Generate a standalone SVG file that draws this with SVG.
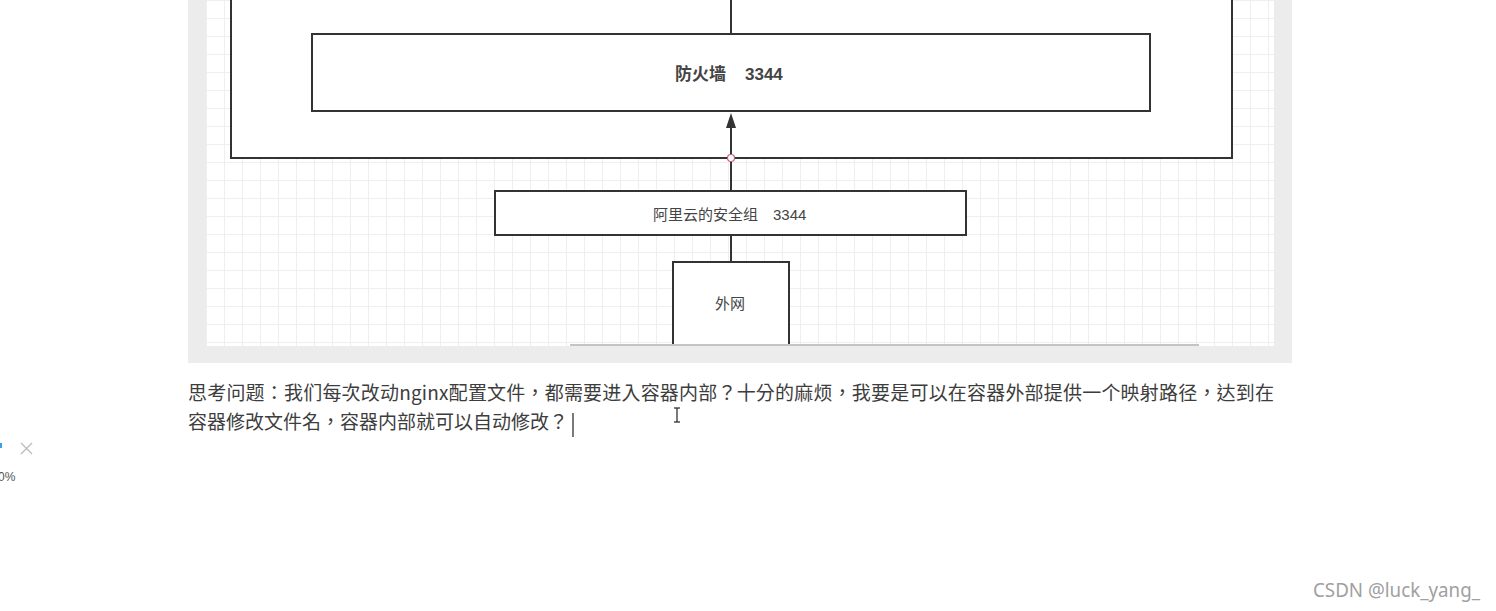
<svg xmlns="http://www.w3.org/2000/svg" width="1496" height="611" viewBox="0 0 1496 611">
  <style>
    .box { fill: #ffffff; stroke: #333333; stroke-width: 2; }
    .dg { font-family: "Liberation Sans", "Noto Sans CJK SC", sans-serif; fill: #444444; }
    .para { font-family: "Noto Sans CJK TC", "Noto Sans CJK SC", sans-serif; font-size: 19px; fill: #3d3d3d; }
    .conn { stroke: #333333; stroke-width: 2; fill: none; }
  </style>
  <defs>
    <pattern id="grid" patternUnits="userSpaceOnUse" x="8" y="0" width="18" height="18">
      <path d="M0.5 0 V18 M0 0.5 H18" stroke="#efefef" stroke-width="1" fill="none"/>
    </pattern>
  </defs>

  <rect x="0" y="0" width="1496" height="611" fill="#ffffff"/>

  <!-- image frame -->
  <rect x="188" y="0" width="1104" height="363" fill="#ececec"/>
  <rect x="206" y="0" width="1068" height="346" fill="#ffffff"/>
  <rect x="206" y="0" width="1068" height="346" fill="url(#grid)"/>
  <line x1="570" y1="345" x2="1199" y2="345" stroke="#c4c4c4" stroke-width="2"/>

  <g id="container">
    <path class="box" d="M231 -2 V158 H1232 V-2" />
  </g>

  <g id="firewall">
    <rect class="box" x="312" y="34" width="838" height="77"/>
    <text class="dg" x="675" y="80" font-size="17" font-weight="bold" fill="#333333">防火墙</text>
    <text class="dg" x="745" y="80" font-size="17" font-weight="bold" fill="#333333">3344</text>
  </g>

  <g id="security-group">
    <rect class="box" x="495" y="191" width="471" height="44"/>
    <text class="dg" x="653" y="220" font-size="15">阿里云的安全组</text>
    <text class="dg" x="773" y="220" font-size="15">3344</text>
  </g>

  <g id="internet">
    <path class="box" d="M673 344 V262 H789 V344"/>
    <text class="dg" x="715" y="309" font-size="15">外网</text>
  </g>

  <!-- connectors -->
  <g id="connectors">
    <line class="conn" x1="731" y1="0" x2="731" y2="34"/>
    <line class="conn" x1="731" y1="191" x2="731" y2="127"/>
    <path d="M731 113 L736 128 L726 128 Z" fill="#333333"/>
    <line class="conn" x1="731" y1="235" x2="731" y2="262"/>
    <circle cx="731" cy="158" r="3.5" fill="#ffffff" stroke="#c0607a" stroke-width="1.2"/>
  </g>

  <!-- paragraph -->
  <text class="para" x="188" y="400" textLength="1086" lengthAdjust="spacing">思考问题：我们每次改动nginx配置文件，都需要进入容器内部？十分的麻烦，我要是可以在容器外部提供一个映射路径，达到在</text>
  <text class="para" x="188" y="429">容器修改文件名，容器内部就可以自动修改？</text>
  <line x1="573" y1="413" x2="573" y2="437" stroke="#222222" stroke-width="1.2"/>

  <!-- I-beam mouse cursor -->
  <g stroke="#222222" stroke-width="1.2" fill="none">
    <line x1="677" y1="408" x2="677" y2="422"/>
    <line x1="674" y1="408" x2="680" y2="408"/>
    <line x1="674" y1="422" x2="680" y2="422"/>
  </g>

  <!-- left widget fragment -->
  <rect x="0" y="443" width="2" height="5" fill="#3aa0e0"/>
  <g stroke="#bbbbbb" stroke-width="1.3">
    <line x1="21" y1="443" x2="32" y2="454"/>
    <line x1="32" y1="443" x2="21" y2="454"/>
  </g>
  <text x="-2" y="481" font-family="Liberation Sans, sans-serif" font-size="12" fill="#555555">0%</text>

  <!-- watermark -->
  <text x="1313" y="597" font-family="Noto Sans, Liberation Sans, sans-serif" font-size="19" fill="#a0a0a0" textLength="167" lengthAdjust="spacingAndGlyphs">CSDN @luck_yang_</text>
</svg>
